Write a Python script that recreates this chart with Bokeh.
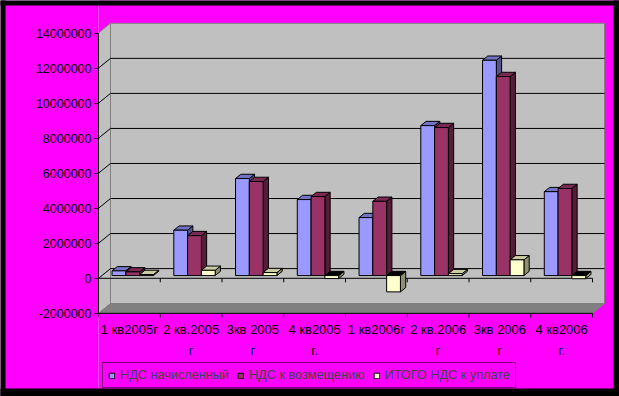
from bokeh.plotting import figure
from bokeh.models import Range1d, LinearAxis, FixedTicker, Legend, LegendItem
from bokeh.core.properties import value
from bokeh.embed import file_html
from bokeh.resources import INLINE

# ---------------- data ----------------
categories = ["1 кв2005г", "2 кв.2005\nг", "3кв 2005\nг", "4 кв2005\nг.",
              "1 кв2006г", "2 кв.2006\nг", "3кв 2006\nг", "4 кв2006\nг."]
series_names = ["НДС начисленный", "НДС к возмещению", "ИТОГО НДС к уплате"]
vat_charged = [270000, 2590000, 5540000, 4340000, 3310000, 8560000, 12290000, 4790000]
vat_refund = [210000, 2280000, 5370000, 4510000, 4240000, 8450000, 11360000, 4970000]
vat_total = [60000, 300000, 170000, -170000, -930000, 110000, 900000, -180000]
y_ticks = [-2000000, 0, 2000000, 4000000, 6000000, 8000000, 10000000, 12000000, 14000000]
y_tick_labels = ["-2000000", "0", "2000000", "4000000", "6000000", "8000000",
                 "10000000", "12000000", "14000000"]

# ---------------- styling / layout ----------------
W, H = 619, 396
LEFT_PX = 98          # screen x of the category axis origin
CAT_PX = 61.75        # px per category
ZERO_PX = 277.8       # screen y of value 0 (front plane)
PX_PER_M = 17.52      # px per 1,000,000
FONT = "Liberation Sans"
MAGENTA = "#FF00FF"

def xd(px):
    return (px - LEFT_PX) / CAT_PX

def yd(py):
    return (ZERO_PX - py) / PX_PER_M * 1e6

DX = 12 / CAT_PX                 # depth offset (category units)
DY = 9.7 / PX_PER_M * 1e6        # depth offset (value units)
F0, F1 = 0.28, 0.72              # bar depth span (fraction of full depth)
BAR_W = 13.8 / CAT_PX

front_colors = ["#9999FF", "#993366", "#FFFFCC"]
top_colors = ["#7373C6", "#7A2952", "#CCCCA3"]
side_colors = ["#55558E", "#561C39", "#8F8F72"]

N = len(categories)
ymin, ymax = y_ticks[0], y_ticks[-1]

p = figure(width=W, height=H, x_range=Range1d(0, xd(W)), y_range=Range1d(yd(H), yd(0)),
           x_axis_type=None, y_axis_type=None, toolbar_location=None, output_backend="svg",
           min_border_left=LEFT_PX, min_border_right=0, min_border_top=0, min_border_bottom=0,
           background_fill_color=MAGENTA, border_fill_color=MAGENTA, outline_line_color=None)

# walls and floor
p.patch([0, DX, DX, 0], [ymin, ymin + DY, ymax + DY, ymax],
        fill_color="#C0C0C0", line_color="#808080", line_width=1)
p.quad(left=[DX], right=[N + DX], bottom=[ymin + DY], top=[ymax + DY],
       fill_color="#C0C0C0", line_color="#808080", line_width=1)
p.patch([0, N, N + DX, DX], [ymin, ymin, ymin + DY, ymin + DY],
        fill_color="#808080", line_color="#808080", line_width=1)

# gridlines (back wall + left wall)
grid = y_ticks[1:-1]
p.segment(x0=[DX] * len(grid), y0=[t + DY for t in grid], x1=[N + DX] * len(grid),
          y1=[t + DY for t in grid], line_color="black", line_width=1)
p.segment(x0=[0] * len(grid), y0=grid, x1=[DX] * len(grid), y1=[t + DY for t in grid],
          line_color="black", line_width=1)

# category axis lines (zero level and floor front edge) with boundary ticks
tick_len = 4 / PX_PER_M * 1e6
bounds = list(range(N + 1))
for base in (0, ymin):
    p.segment(x0=[0], y0=[base], x1=[N], y1=[base], line_color="black", line_width=1)
    p.segment(x0=bounds, y0=[base] * len(bounds), x1=bounds, y1=[base - tick_len] * len(bounds),
              line_color="black", line_width=1)

# bars
ddx, ddy = (F1 - F0) * DX, (F1 - F0) * DY
gap = (1 - 3 * BAR_W) / 2
front_renderers = []
for s, vals in enumerate([vat_charged, vat_refund, vat_total]):
    lefts = [i + gap + s * BAR_W + F0 * DX for i in range(N)]
    rights = [l + BAR_W for l in lefts]
    base = F0 * DY
    tops_v = [v + base for v in vals]
    hi = [max(base, t) for t in tops_v]
    lo = [min(base, t) for t in tops_v]
    side_xs = [[r, r + ddx, r + ddx, r] for r in rights]
    side_ys = [[l_, l_ + ddy, h + ddy, h] for l_, h in zip(lo, hi)]
    top_xs = [[l, r, r + ddx, l + ddx] for l, r in zip(lefts, rights)]
    top_ys = [[h, h, h + ddy, h + ddy] for h in hi]
    top_fill = [top_colors[s] if v >= 0 else "#000000" for v in vals]
    p.patches(side_xs, side_ys, fill_color=side_colors[s], line_color="black", line_width=1)
    p.patches(top_xs, top_ys, fill_color=top_fill, line_color="black", line_width=1)
    r = p.quad(left=lefts, right=rights, bottom=lo, top=hi,
               fill_color=front_colors[s], line_color="black", line_width=1)
    front_renderers.append(r)

# category labels
p.text(x=[i + 0.5 for i in range(N)], y=[yd(321)] * N, text=categories,
       text_align="center", text_baseline="top", text_font=value(FONT),
       text_font_size="13px", text_color="black", text_line_height=1.42)

# value axis
yaxis = LinearAxis(ticker=FixedTicker(ticks=y_ticks), bounds=(ymin, ymax),
                   major_label_overrides=dict(zip(y_ticks, y_tick_labels)),
                   major_tick_in=0, major_tick_out=4, minor_tick_in=0, minor_tick_out=0,
                   major_label_standoff=3, axis_line_color="black", major_tick_line_color="black",
                   major_label_text_font=FONT, major_label_text_font_size="12.5px",
                   major_label_text_color="black")
p.add_layout(yaxis, "left")

# legend
legend = Legend(items=[LegendItem(label=n, renderers=[r]) for n, r in zip(series_names, front_renderers)],
                orientation="horizontal", location=(4, 8), border_line_color="black",
                border_line_width=1, background_fill_alpha=0, label_text_font=FONT,
                label_text_font_size="12.7px", glyph_width=7, glyph_height=7, label_standoff=5,
                spacing=8, padding=5, margin=0, label_height=14)
p.add_layout(legend)

# black outer frame
for x0, x1, y0, y1 in [(0, 5, 0, H), (W - 6, W, 0, H), (0, W, 0, 5), (0, W, 388, H)]:
    p.quad(left=[xd(x0)], right=[xd(x1)], bottom=[yd(y1)], top=[yd(y0)],
           fill_color="black", line_color=None, level="overlay")

open("out.html", "w").write(file_html(p, INLINE))
